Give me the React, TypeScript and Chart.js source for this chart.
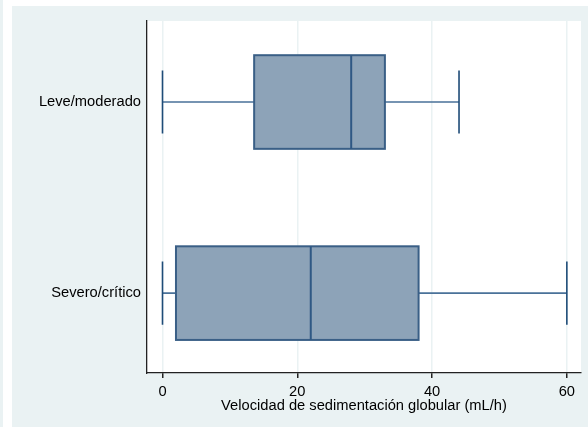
import React, { useEffect, useRef } from "react";
import { Chart, registerables } from "chart.js";

Chart.register(...registerables);

const categories = ["Leve/moderado", "Severo/crítico"];
const whiskerLow = [0, 0];
const q1 = [13.6, 2];
const median = [28, 22];
const q3 = [33, 38];
const whiskerHigh = [44, 60];
const xTicks = [0, 20, 40, 60];
const xTitle = "Velocidad de sedimentación globular (mL/h)";

const FONT = "'Liberation Sans', Arial, Helvetica, sans-serif";
const BG = "#EAF2F3";

const boxPlugin = {
  id: "boxes",
  beforeDraw(chart: any) {
    const { ctx, width, height } = chart;
    const xs = chart.scales.x;
    const ys = chart.scales.y;
    ctx.save();
    ctx.fillStyle = "#ffffff";
    ctx.fillRect(0, 0, width, height);
    ctx.fillStyle = BG;
    ctx.fillRect(0, 0, 3, height);
    ctx.fillRect(12, 6, width - 12, height - 6);
    ctx.fillStyle = "#ffffff";
    ctx.fillRect(xs.left, ys.top, xs.right - xs.left, ys.bottom - ys.top);
    ctx.restore();
  },
  afterDatasetsDraw(chart: any) {
    const { ctx } = chart;
    const xs = chart.scales.x;
    const ys = chart.scales.y;
    const boxHalf = 0.245;
    const capHalf = 0.165;
    ctx.save();
    categories.forEach((_, i) => {
      const yc = ys.getPixelForValue(i + 1);
      const yTop = ys.getPixelForValue(i + 1 - boxHalf);
      const yBot = ys.getPixelForValue(i + 1 + boxHalf);
      const cTop = ys.getPixelForValue(i + 1 - capHalf);
      const cBot = ys.getPixelForValue(i + 1 + capHalf);
      const xl = xs.getPixelForValue(whiskerLow[i]);
      const x1 = xs.getPixelForValue(q1[i]);
      const xm = xs.getPixelForValue(median[i]);
      const x3 = xs.getPixelForValue(q3[i]);
      const xh = xs.getPixelForValue(whiskerHigh[i]);
      ctx.strokeStyle = "#4A7299";
      ctx.lineWidth = 1.6;
      ctx.beginPath();
      ctx.moveTo(xl, yc);
      ctx.lineTo(x1, yc);
      ctx.moveTo(x3, yc);
      ctx.lineTo(xh, yc);
      ctx.stroke();
      ctx.strokeStyle = "#1F4C78";
      ctx.lineWidth = 1.6;
      ctx.beginPath();
      ctx.moveTo(xl, cTop);
      ctx.lineTo(xl, cBot);
      ctx.moveTo(xh, cTop);
      ctx.lineTo(xh, cBot);
      ctx.stroke();
      ctx.fillStyle = "#8DA3B8";
      ctx.fillRect(x1, yTop, x3 - x1, yBot - yTop);
      ctx.strokeStyle = "#3A5F86";
      ctx.lineWidth = 2;
      ctx.strokeRect(x1, yTop, x3 - x1, yBot - yTop);
      ctx.strokeStyle = "#2F5884";
      ctx.lineWidth = 2;
      ctx.beginPath();
      ctx.moveTo(xm, yTop);
      ctx.lineTo(xm, yBot);
      ctx.stroke();
    });
    ctx.restore();
  },
};

export default function App() {
  const ref = useRef<HTMLCanvasElement>(null);
  useEffect(() => {
    const canvas = ref.current;
    if (!canvas) return;
    const chart = new Chart(canvas, {
      type: "scatter",
      data: { datasets: [{ data: [], pointRadius: 0 }] },
      plugins: [boxPlugin],
      options: {
        animation: false,
        responsive: false,
        devicePixelRatio: 1,
        layout: { padding: { left: 12, top: 21, right: 7, bottom: 0 } },
        plugins: { legend: { display: false }, tooltip: { enabled: false } },
        scales: {
          x: {
            type: "linear",
            min: -2.3,
            max: 62.1,
            afterBuildTicks: (s: any) => {
              s.ticks = xTicks.map((v) => ({ value: v }));
            },
            afterFit: (s: any) => {
              s.height = 54;
            },
            grid: {
              color: BG,
              lineWidth: 1.5,
              tickColor: "#222222",
              tickLength: 5,
              drawTicks: true,
            },
            border: { display: true, color: "#222222", width: 1.3 },
            ticks: {
              color: "#000000",
              font: { family: FONT, size: 14.7 },
              padding: 5,
              maxRotation: 0,
            },
            title: {
              display: true,
              text: xTitle,
              color: "#000000",
              font: { family: FONT, size: 14.7 },
              padding: { top: 0, bottom: 12 },
            },
          },
          y: {
            type: "linear",
            reverse: true,
            min: 0.576,
            max: 2.418,
            afterBuildTicks: (s: any) => {
              s.ticks = categories.map((_, i) => ({ value: i + 1 }));
            },
            afterFit: (s: any) => {
              s.width = 135;
            },
            grid: { display: false, drawTicks: false },
            border: { display: true, color: "#222222", width: 1.3 },
            ticks: {
              color: "#000000",
              font: { family: FONT, size: 14.7 },
              padding: 6,
              callback: (v: any) => categories[Math.round(Number(v)) - 1] ?? "",
            },
          },
        },
      },
    });
    return () => chart.destroy();
  }, []);
  return (
    <div style={{ position: "fixed", left: 0, top: 0, width: 588, height: 427 }}>
      <canvas ref={ref} width={588} height={427} style={{ display: "block" }} />
    </div>
  );
}
